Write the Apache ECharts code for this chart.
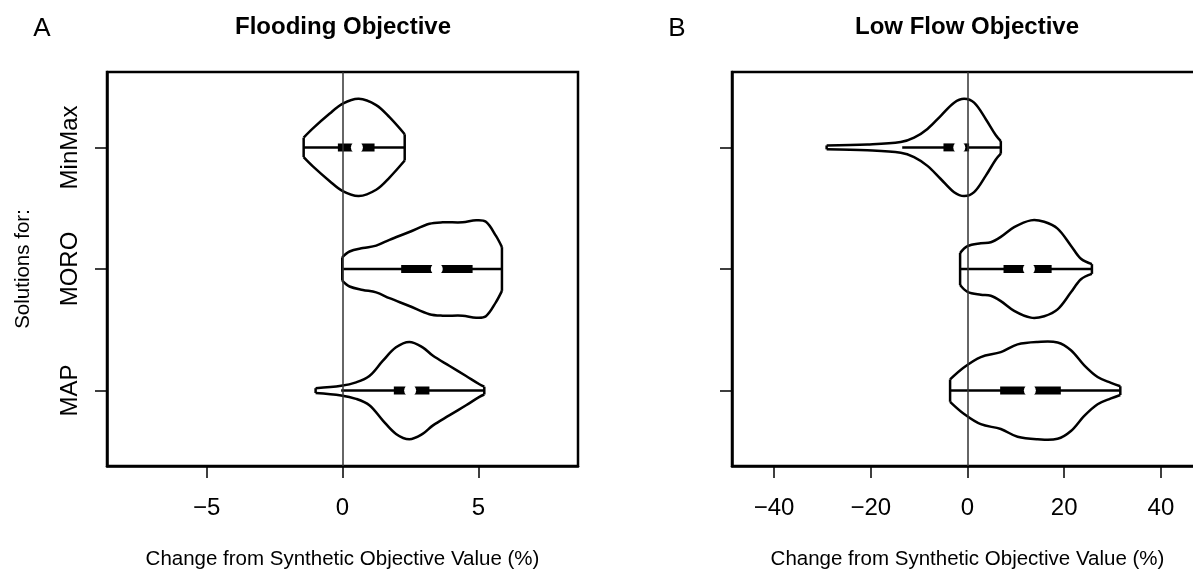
<!DOCTYPE html>
<html>
<head>
<meta charset="utf-8">
<script src="https://cdn.jsdelivr.net/npm/echarts@6/dist/echarts.min.js"></script>
<style>
  html, body { margin: 0; padding: 0; background: #fff; }
  #chart { width: 1193px; height: 571px; }
</style>
</head>
<body>
<div id="chart"></div>
<script>
// Groups on the vertical axis (bottom to top)
const groupNames = ['MAP', 'MORO', 'MinMax'];
const groupPositions = [1, 2, 3];

// Tick values of the horizontal axes
const xTicksFlood = [-5, 0, 5];
const xTicksLow = [-40, -20, 0, 20, 40];

// Flooding objective: violin outlines (value, relative density)
const floodMapX = [-0.99, -0.05, 0.50, 0.99, 1.48, 1.97, 2.46, 2.95, 3.32, 3.93, 4.55, 5.04, 5.22];
const floodMapD = [0.05, 0.10, 0.17, 0.30, 0.61, 0.89, 1.00, 0.89, 0.72, 0.51, 0.30, 0.13, 0.08];
const floodMoroX = [-0.01, 0.26, 0.75, 1.24, 1.73, 2.46, 3.20, 3.69, 4.42, 4.92, 5.28, 5.65, 5.87];
const floodMoroD = [0.24, 0.36, 0.43, 0.48, 0.60, 0.76, 0.93, 0.96, 0.96, 1.00, 0.97, 0.68, 0.45];
const floodMinMaxX = [-1.43, -1.09, -0.48, 0.01, 0.60, 1.24, 1.73, 2.29];
const floodMinMaxD = [0.20, 0.39, 0.69, 0.90, 1.00, 0.87, 0.62, 0.27];

// Flooding objective: [lower whisker, Q1, median, Q3, upper whisker]
const floodMapStats = [-0.05, 1.89, 2.49, 3.20, 5.22];
const floodMoroStats = [-0.01, 2.16, 3.47, 4.79, 5.87];
const floodMinMaxStats = [-1.43, -0.17, 0.53, 1.18, 2.29];

// Low flow objective: violin outlines (value, relative density)
const lowMapX = [-3.60, -0.70, 2.75, 6.89, 10.35, 14.49, 18.63, 21.39, 24.14, 26.91, 29.67, 31.60];
const lowMapD = [0.23, 0.48, 0.69, 0.79, 0.95, 1.00, 0.99, 0.83, 0.52, 0.28, 0.16, 0.09];
const lowMoroX = [-1.53, 0.00, 2.75, 4.82, 6.89, 9.65, 13.10, 15.86, 18.63, 21.39, 23.46, 25.73];
const lowMoroD = [0.33, 0.47, 0.53, 0.55, 0.66, 0.86, 1.00, 0.97, 0.83, 0.48, 0.21, 0.10];
const lowMinMaxX = [-29.13, -20.70, -13.81, -11.05, -8.28, -5.53, -2.77, -0.70, 1.37, 3.79, 5.86, 6.89];
const lowMinMaxD = [0.04, 0.06, 0.11, 0.20, 0.38, 0.65, 0.92, 1.00, 0.92, 0.58, 0.25, 0.13];

// Low flow objective: [lower whisker, Q1, median, Q3, upper whisker]
const lowMapStats = [-3.60, 6.75, 12.90, 19.30, 31.60];
const lowMoroStats = [-1.53, 7.45, 12.70, 17.40, 25.73];
const lowMinMaxStats = [-13.50, -4.97, -1.70, 0.33, 6.89];

const FONT = '"Liberation Sans", Arial, Helvetica, sans-serif';
const HALF_WIDTH = 0.4;   // widest point of a violin, in axis units

const floodProfiles = [[floodMapX, floodMapD], [floodMoroX, floodMoroD], [floodMinMaxX, floodMinMaxD]];
const floodStats = [floodMapStats, floodMoroStats, floodMinMaxStats];
const lowProfiles = [[lowMapX, lowMapD], [lowMoroX, lowMoroD], [lowMinMaxX, lowMinMaxD]];
const lowStats = [lowMapStats, lowMoroStats, lowMinMaxStats];

function minusFormat(v) {
  return v < 0 ? '\u2212' + Math.abs(v) : String(v);
}

function violinRenderer(profiles, stats) {
  return function (params, api) {
    const i = params.dataIndex;
    const pos = api.value(1);
    const xs = profiles[i][0], ds = profiles[i][1];
    const st = stats[i];
    const up = xs.map((x, k) => api.coord([x, pos + ds[k] * HALF_WIDTH]));
    const lo = xs.map((x, k) => api.coord([x, pos - ds[k] * HALF_WIDTH]));
    const n = up.length - 1;
    const outline = { stroke: '#000', lineWidth: 2.5, fill: null, lineJoin: 'round' };
    const w0 = api.coord([st[0], pos]);
    const q1 = api.coord([st[1], pos]);
    const md = api.coord([st[2], pos]);
    const q3 = api.coord([st[3], pos]);
    const w1 = api.coord([st[4], pos]);
    return {
      type: 'group',
      children: [
        { type: 'polyline', shape: { points: up, smooth: 0.35 }, style: outline },
        { type: 'polyline', shape: { points: lo, smooth: 0.35 }, style: outline },
        { type: 'line', shape: { x1: up[0][0], y1: up[0][1], x2: lo[0][0], y2: lo[0][1] }, style: outline },
        { type: 'line', shape: { x1: up[n][0], y1: up[n][1], x2: lo[n][0], y2: lo[n][1] }, style: outline },
        { type: 'line', shape: { x1: w0[0], y1: w0[1], x2: w1[0], y2: w1[1] }, style: { stroke: '#000', lineWidth: 2.5 } },
        { type: 'rect', shape: { x: q1[0], y: q1[1] - 4, width: q3[0] - q1[0], height: 8 }, style: { fill: '#000' } },
        { type: 'circle', shape: { cx: md[0], cy: md[1], r: 6 }, style: { fill: '#fff' } }
      ]
    };
  };
}

function xAxisFor(gridIndex, min, max, ticks) {
  return {
    gridIndex: gridIndex, type: 'value', min: min, max: max,
    splitLine: { show: false },
    axisLine: { show: true, onZero: false, lineStyle: { color: '#000', width: 2.5 } },
    axisTick: { show: true, length: 12, customValues: ticks, lineStyle: { color: '#000', width: 1.5 } },
    axisLabel: { customValues: ticks, formatter: minusFormat, fontSize: 24, color: '#000', margin: 30, fontFamily: FONT },
    name: 'Change from Synthetic Objective Value (%)',
    nameLocation: 'middle', nameGap: 83,
    nameTextStyle: { fontSize: 20.5, color: '#000', fontFamily: FONT }
  };
}

function yAxisFor(gridIndex, withLabels) {
  const axis = {
    gridIndex: gridIndex, type: 'value', min: 0.38, max: 3.62,
    splitLine: { show: false },
    axisLine: { show: true, onZero: false, lineStyle: { color: '#000', width: 2.5 } },
    axisTick: { show: true, length: 12, customValues: groupPositions, lineStyle: { color: '#000', width: 1.5 } },
    axisLabel: {
      show: withLabels, customValues: groupPositions,
      formatter: v => groupNames[groupPositions.indexOf(v)],
      rotate: 90, fontSize: 24, color: '#000', margin: 25, fontFamily: FONT
    }
  };
  if (withLabels) {
    axis.name = 'Solutions for:';
    axis.nameLocation = 'middle';
    axis.nameRotate = 90;
    axis.nameGap = 73;
    axis.nameTextStyle = { fontSize: 20.5, color: '#000', fontFamily: FONT };
  }
  return axis;
}

const zeroLine = {
  silent: true, symbol: 'none',
  label: { show: false },
  lineStyle: { color: '#333', width: 1.5, type: 'solid' },
  data: [{ xAxis: 0 }]
};

const gridBase = { top: 72, width: 471, height: 394, show: true, borderColor: '#000', borderWidth: 2.5,
  backgroundColor: 'transparent', containLabel: false, outerBoundsMode: 'none' };

const chart = echarts.init(document.getElementById('chart'), null, { renderer: 'canvas' });
chart.setOption({
  backgroundColor: '#fff',
  animation: false,
  grid: [
    Object.assign({ left: 107 }, gridBase),
    Object.assign({ left: 732 }, gridBase)
  ],
  xAxis: [
    xAxisFor(0, -8.67, 8.67, xTicksFlood),
    xAxisFor(1, -48.7, 48.7, xTicksLow)
  ],
  yAxis: [
    yAxisFor(0, true),
    yAxisFor(1, false)
  ],
  graphic: [
    { type: 'text', x: 343, y: 27, style: { text: 'Flooding Objective', font: 'bold 24px ' + FONT, align: 'center', verticalAlign: 'middle', fill: '#000' } },
    { type: 'text', x: 967, y: 27, style: { text: 'Low Flow Objective', font: 'bold 24px ' + FONT, align: 'center', verticalAlign: 'middle', fill: '#000' } },
    { type: 'text', x: 42, y: 29, style: { text: 'A', font: '26px ' + FONT, align: 'center', verticalAlign: 'middle', fill: '#000' } },
    { type: 'text', x: 677, y: 29, style: { text: 'B', font: '26px ' + FONT, align: 'center', verticalAlign: 'middle', fill: '#000' } }
  ],
  series: [
    {
      type: 'custom', xAxisIndex: 0, yAxisIndex: 0,
      renderItem: violinRenderer(floodProfiles, floodStats),
      data: groupPositions.map((p, i) => [floodStats[i][2], p]),
      markLine: zeroLine
    },
    {
      type: 'custom', xAxisIndex: 1, yAxisIndex: 1,
      renderItem: violinRenderer(lowProfiles, lowStats),
      data: groupPositions.map((p, i) => [lowStats[i][2], p]),
      markLine: zeroLine
    }
  ]
});
</script>
</body>
</html>
